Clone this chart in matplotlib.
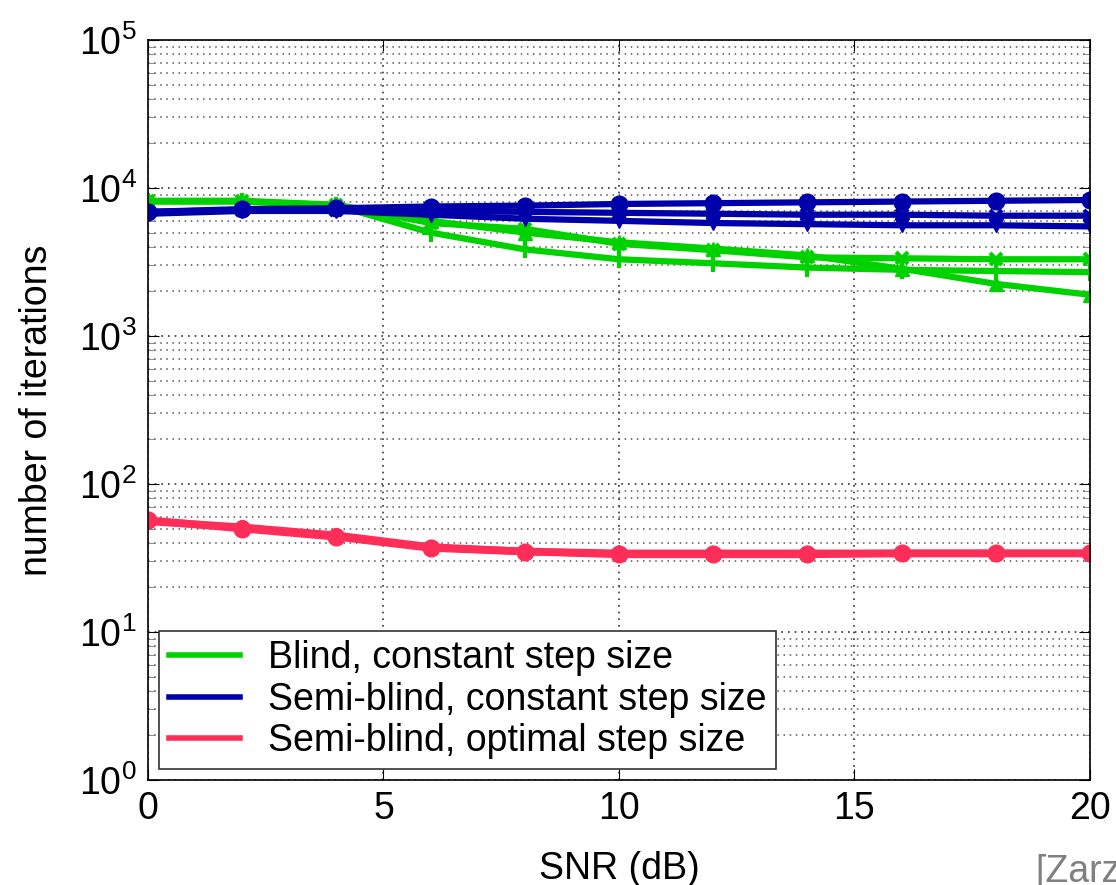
import matplotlib
matplotlib.use("Agg")
import matplotlib.pyplot as plt
from matplotlib.lines import Line2D

plt.rcParams['font.family'] = ['Liberation Sans', 'DejaVu Sans']
plt.rcParams['mathtext.fontset'] = 'custom'
plt.rcParams['mathtext.rm'] = 'Liberation Sans'
plt.rcParams['mathtext.it'] = 'Liberation Sans'

snr = [0, 2, 4, 6, 8, 10, 12, 14, 16, 18, 20]

blind_tri = [8200, 8200, 7700, 6000, 5000, 4300, 3900, 3500, 2850, 2250, 1900]
blind_plus = [8100, 8100, 7600, 5000, 3850, 3300, 3100, 2900, 2800, 2750, 2700]
blind_x = [8150, 8150, 7650, 5800, 5300, 4200, 3800, 3400, 3350, 3300, 3300]

semi_circ = [6900, 7200, 7300, 7500, 7600, 7800, 7900, 8000, 8100, 8200, 8300]
semi_x = [6900, 7100, 7100, 7000, 6900, 6800, 6700, 6600, 6600, 6500, 6500]
semi_tri = [6700, 7000, 7000, 6600, 6200, 6000, 5800, 5700, 5600, 5600, 5500]

opt_a = [57, 50, 44, 37, 35, 33.5, 33.5, 33.5, 34, 34, 34]
opt_b = [56, 51, 45, 37.5, 35, 34, 34, 34, 34, 34, 34]

legend_labels = ['Blind, constant step size',
                 'Semi-blind, constant step size',
                 'Semi-blind, optimal step size']

green = '#00d200'
blue = '#0000aa'
red = '#ff2e58'

fig = plt.figure(figsize=(11.16, 8.85), dpi=100)
ax = fig.add_axes([0.1326, 0.1186, 0.8441, 0.8362])

lw = 4.5
ms = 10
ax.plot(snr, blind_tri, color=green, lw=lw, marker='^', ms=ms)
ax.plot(snr, blind_plus, color=green, lw=lw, marker='+', ms=ms+3, mew=3)
ax.plot(snr, blind_x, color=green, lw=lw, marker='x', ms=ms-2, mew=3)
ax.plot(snr, semi_x, color=blue, lw=lw, marker='x', ms=ms-2, mew=3)
ax.plot(snr, semi_tri, color=blue, lw=lw, marker='v', ms=ms)
ax.plot(snr, semi_circ, color=blue, lw=lw, marker='o', ms=ms+2)
ax.plot(snr, opt_a, color=red, lw=lw+1, marker='o', ms=ms+2)
ax.plot(snr, opt_b, color=red, lw=lw+1, marker='o', ms=ms)

ax.set_yscale('log')
ax.set_xlim(0, 20)
ax.set_ylim(1, 1e5)
ax.set_xticks([0, 5, 10, 15, 20])
ax.grid(True, which='major', axis='both', linestyle=(0, (1, 3)), color='#333333', lw=1.2)
ax.grid(True, which='minor', axis='y', linestyle=(0, (1, 3)), color='#555555', lw=1.1)
ax.tick_params(which='both', direction='in', top=True, right=True, labelsize=27, pad=8)
ax.tick_params(which='major', length=8)
ax.tick_params(which='minor', length=5, color='#777777')
for s in ax.spines.values():
    s.set_linewidth(1.2)

ax.set_ylabel('number of iterations', fontsize=27, labelpad=17)
ax.set_xlabel('SNR (dB)', fontsize=27, labelpad=17)

handles = [Line2D([], [], color=c, lw=4) for c in (green, blue, red)]
leg = ax.legend(handles, legend_labels, loc='lower left', fontsize=27,
                frameon=True, fancybox=False, edgecolor='#333333',
                borderaxespad=0.3, handlelength=1.9, handletextpad=0.75,
                labelspacing=0.15, borderpad=0.25)
leg.get_frame().set_linewidth(1.2)
leg.get_frame().set_alpha(1)

fig.text(1035/1116, 1 - 882/885, '[Zarz', fontsize=27, color='#808080',
         ha='left', va='baseline')

fig.savefig('out.png', dpi=100)
